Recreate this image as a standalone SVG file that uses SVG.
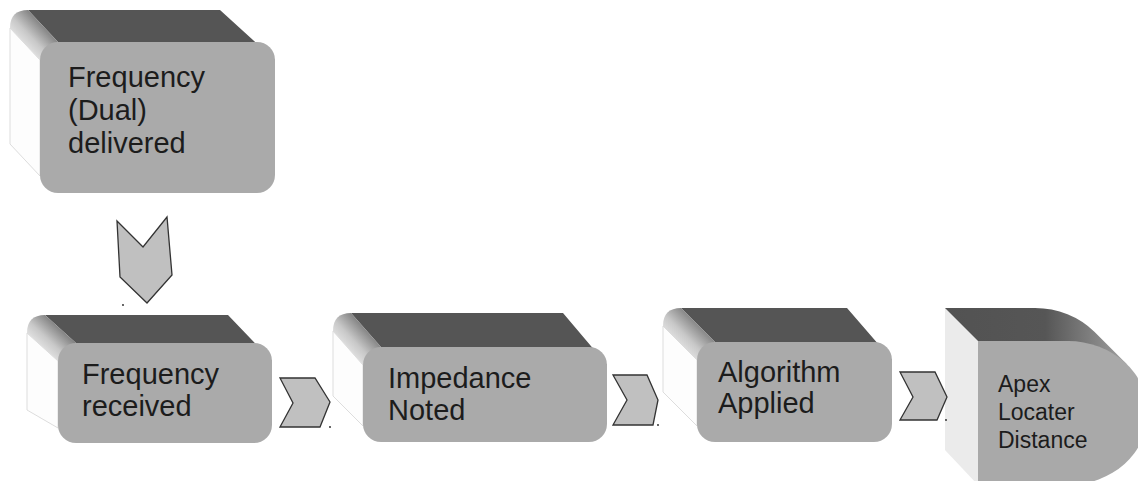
<svg xmlns="http://www.w3.org/2000/svg" width="1138" height="481" viewBox="0 0 1138 481">
  <defs>
    <linearGradient id="bevel" x1="0" y1="1" x2="1" y2="0">
      <stop offset="0.1" stop-color="#ffffff"/>
      <stop offset="0.45" stop-color="#c8c8c8"/>
      <stop offset="0.85" stop-color="#555555"/>
    </linearGradient>
    <linearGradient id="apexTop" x1="0" y1="0" x2="1" y2="0">
      <stop offset="0" stop-color="#525252"/>
      <stop offset="0.55" stop-color="#565656"/>
      <stop offset="1" stop-color="#a0a0a0"/>
    </linearGradient>
    <style>
      .left { fill: #fdfdfd; stroke: #d4d4d4; stroke-width: 0.8; }
      .top { fill: #555555; }
      .bev { fill: url(#bevel); }
      .front { fill: #aaaaaa; }
      .chev { fill: #c0c0c0; stroke: #333333; stroke-width: 1.3; stroke-linejoin: miter; }
      .lbl { font-family: "Liberation Sans", Arial, sans-serif; font-size: 29px; fill: #1c1c1c; }
      .lbls { font-family: "Liberation Sans", Arial, sans-serif; font-size: 23px; fill: #1c1c1c; }
      .dot { fill: #222222; }
    </style>
  </defs>

  <g id="node-freq-delivered">
    <path class="left" d="M10,28 L40,60 L40,176 L10,144 Z"/>
    <path class="top" d="M28,10 L220,10 L275,60 L275,90 L58,90 L58,42 Z"/>
    <path class="bev" d="M10,28 Q10,10 28,10 L58,42 L40,60 Z"/>
    <rect class="front" x="40" y="42" width="235" height="151" rx="18"/>
    <text class="lbl" x="68" y="87">Frequency</text>
    <text class="lbl" x="68" y="120">(Dual)</text>
    <text class="lbl" x="68" y="153">delivered</text>
  </g>

  <g id="node-freq-received">
    <path class="left" d="M27,333 L58,361 L58,428 L27,410 Z"/>
    <path class="top" d="M45,315 L228,315 L272,361 L272,390 L76,390 L76,343 Z"/>
    <path class="bev" d="M27,333 Q27,315 45,315 L76,343 L58,361 Z"/>
    <rect class="front" x="58" y="343" width="214" height="100" rx="18"/>
    <text class="lbl" x="82" y="384">Frequency</text>
    <text class="lbl" x="82" y="416">received</text>
  </g>

  <g id="node-impedance">
    <path class="left" d="M333,331 L363,365 L363,426 L333,396 Z"/>
    <path class="top" d="M351,313 L563,313 L607,365 L607,390 L381,390 L381,347 Z"/>
    <path class="bev" d="M333,331 Q333,313 351,313 L381,347 L363,365 Z"/>
    <rect class="front" x="363" y="347" width="244" height="95" rx="18"/>
    <text class="lbl" x="388" y="388">Impedance</text>
    <text class="lbl" x="388" y="420">Noted</text>
  </g>

  <g id="node-algorithm">
    <path class="left" d="M663,326 L697,360 L697,426 L663,392 Z"/>
    <path class="top" d="M681,308 L847,308 L892,360 L892,390 L715,390 L715,342 Z"/>
    <path class="bev" d="M663,326 Q663,308 681,308 L715,342 L697,360 Z"/>
    <rect class="front" x="697" y="342" width="195" height="100" rx="18"/>
    <text class="lbl" x="718" y="382">Algorithm</text>
    <text class="lbl" x="718" y="413">Applied</text>
  </g>

  <g id="node-apex">
    <path d="M945,308 L978,341 L978,485 L945,450 Z" fill="#ebebeb"/>
    <path d="M945,308 L1035,308 A80,72 0 0 1 1094.4,331.8 L1127.4,364.8 L1068,341 L978,341 Z" fill="url(#apexTop)"/>
    <path d="M978,341 L1068,341 A80,72 0 0 1 1068,485 L978,485 Z" fill="#a9a9a9"/>
    <text class="lbls" x="998" y="392">Apex</text>
    <text class="lbls" x="998" y="420">Locater</text>
    <text class="lbls" x="998" y="448">Distance</text>
  </g>

  <g id="connectors">
    <polygon class="chev" points="117,221 143,247 167,217 172,275 147,303 120,277"/>
    <polygon class="chev" points="280,378 315,378 330,402 320,427 280,427 293,403"/>
    <polygon class="chev" points="613,375 647,375 658,400 653,425 613,425 627,400"/>
    <polygon class="chev" points="900,372 935,372 947,397 937,420 900,420 913,397"/>
    <circle class="dot" cx="123" cy="305" r="0.9"/>
    <circle class="dot" cx="330" cy="427" r="0.9"/>
    <circle class="dot" cx="658" cy="425" r="0.9"/>
    <circle class="dot" cx="946" cy="420" r="0.9"/>
  </g>
</svg>
